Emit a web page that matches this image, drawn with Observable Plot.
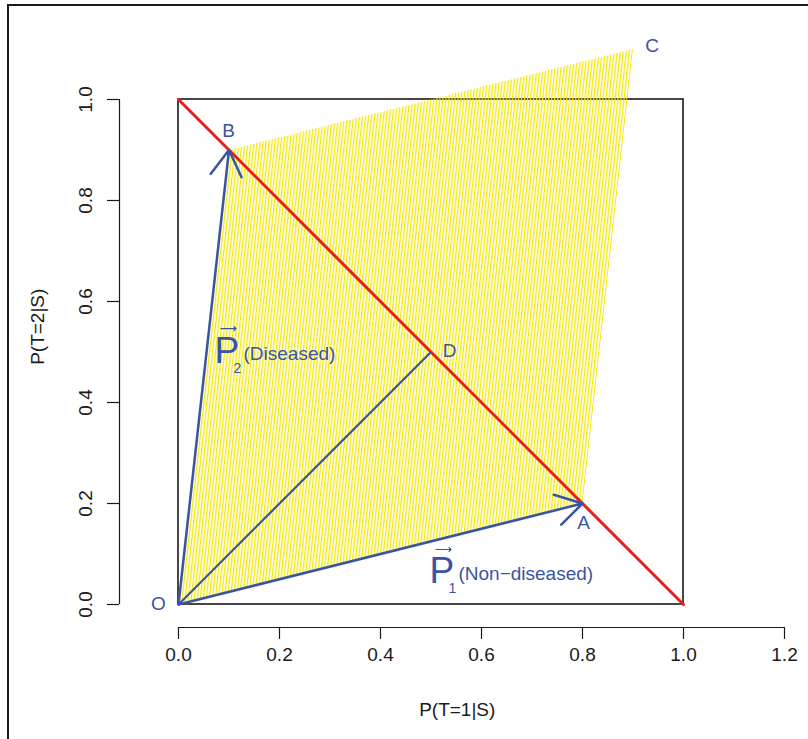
<!DOCTYPE html>
<html>
<head>
<meta charset="utf-8">
<script src="https://cdn.jsdelivr.net/npm/d3@7"></script>
<script src="https://cdn.jsdelivr.net/npm/@observablehq/plot@0.6"></script>
<style>
  html, body { margin: 0; padding: 0; background: #fff; }
  #wrap { position: relative; width: 808px; height: 739px; overflow: hidden; }
  #outer { position: absolute; left: 7px; top: 4px; width: 900px; height: 900px;
           border-left: 2px solid #1a1a1a; border-top: 2px solid #1a1a1a; pointer-events: none; }
</style>
</head>
<body>
<div id="wrap"><div id="outer"></div></div>
<script>
// ---- data ----
const xTicks = [0, 0.2, 0.4, 0.6, 0.8, 1.0, 1.2];
const yTicks = [0, 0.2, 0.4, 0.6, 0.8, 1.0];
const xTitle = "P(T=1|S)";
const yTitle = "P(T=2|S)";

// unit square box
const boxX = [0, 1];
const boxY = [0, 1];

// parallelogram O, A, C, B
const polyNames = ["O", "A", "C", "B", "O"];
const polyX = [0, 0.8, 0.9, 0.1, 0];
const polyY = [0, 0.2, 1.1, 0.9, 0];

// red diagonal x + y = 1
const diagX = [0, 1];
const diagY = [1, 0];

// vectors from O
const vecNames = ["A", "B"];
const vecX = [0.8, 0.1];
const vecY = [0.2, 0.9];

// O -> D segment
const midX = [0.5];
const midY = [0.5];

// point labels
const ptLabels = ["O", "A", "B", "C", "D"];
const ptLabelX = [-0.040, 0.802, 0.099, 0.938, 0.537];
const ptLabelY = [0.002, 0.162, 0.937, 1.107, 0.503];

// vector labels: P with subscript and description
const vLabelSub = ["1", "2"];
const vLabelDesc = ["(Non\u2212diseased)", "(Diseased)"];
const vLabelX = [0.497, 0.0713];
const vLabelY = [0.0416, 0.479];

// ---- build ----
const blue = "#3a54a4";
const red = "#e61e1e";
const ink = "#1a1a1a";
const fmt = d3.format(".1f");

const box = [{x1: boxX[0], x2: boxX[1], y1: boxY[0], y2: boxY[1]}];
const poly = polyX.map((x, i) => ({name: polyNames[i], x, y: polyY[i]}));
const diag = diagX.map((x, i) => ({x, y: diagY[i]}));
const vecs = vecX.map((x, i) => ({name: vecNames[i], x, y: vecY[i]}));
const mids = midX.map((x, i) => ({x, y: midY[i]}));
const pts = ptLabels.map((t, i) => ({t, x: ptLabelX[i], y: ptLabelY[i]}));
const vl = vLabelSub.map((s, i) => ({s, d: vLabelDesc[i], x: vLabelX[i], y: vLabelY[i]}));

const font = "'Liberation Sans', Arial, Helvetica, sans-serif";

const plot = Plot.plot({
  width: 808,
  height: 739,
  marginLeft: 178,
  marginRight: 24,
  marginTop: 99,
  marginBottom: 135,
  x: {domain: [0, 1.2], axis: null},
  y: {domain: [0, 1], axis: null},
  style: {fontFamily: font, background: "transparent", overflow: "visible"},
  marks: [
    // box
    Plot.rect(box, {x1: "x1", x2: "x2", y1: "y1", y2: "y2", fill: "none", stroke: ink, strokeWidth: 1.6}),
    // hatched parallelogram
    Plot.line(poly, {x: "x", y: "y", fill: "url(#hatch)", stroke: "none"}),
    // red diagonal
    Plot.line(diag, {x: "x", y: "y", stroke: red, strokeWidth: 3}),
    // O -> D
    Plot.link(mids, {x1: 0, y1: 0, x2: "x", y2: "y", stroke: blue, strokeWidth: 2.2}),
    // vectors
    Plot.arrow(vecs, {x1: 0, y1: 0, x2: "x", y2: "y", stroke: blue, strokeWidth: 2.5, headLength: 18, headAngle: 62}),
    // axes
    Plot.ruleY([0], {x1: xTicks[0], x2: xTicks[xTicks.length - 1], dy: 23, stroke: ink, strokeWidth: 1.2}),
    Plot.axisX({ticks: xTicks, tickSize: 12, dy: 23, tickPadding: 8, tickFormat: fmt, fontSize: 19, label: null, color: ink, strokeWidth: 1.2}),
    Plot.ruleX([0], {y1: yTicks[0], y2: yTicks[yTicks.length - 1], dx: -59, stroke: ink, strokeWidth: 1.2}),
    Plot.axisY({ticks: yTicks, tickSize: 12, dx: -59, tickFormat: () => "", label: null, color: ink, strokeWidth: 1.2}),
    Plot.text(yTicks, {x: 0, y: d => d, text: d => fmt(d), rotate: -90, dx: -93, textAnchor: "middle", lineAnchor: "middle", fontSize: 19, fill: ink}),
    Plot.text([xTitle], {x: 0.552, y: 0, dy: 105, text: d => d, fontSize: 19, fill: ink, lineAnchor: "middle"}),
    Plot.text([yTitle], {x: 0, y: 0.55, dx: -141, text: d => d, rotate: -90, fontSize: 19, fill: ink, lineAnchor: "middle"}),
    // point labels
    Plot.text(pts, {x: "x", y: "y", text: "t", fontSize: 19, fill: blue, lineAnchor: "middle"}),
    // vector labels
    Plot.text(vl, {x: "x", y: "y", text: () => "P", fontSize: 37, fill: blue, textAnchor: "start", lineAnchor: "bottom"}),
    Plot.text(vl, {x: "x", y: "y", text: "s", fontSize: 14, fill: blue, textAnchor: "start", lineAnchor: "bottom", dx: 19, dy: 10}),
    Plot.text(vl, {x: "x", y: "y", text: "d", fontSize: 19, fill: blue, textAnchor: "start", lineAnchor: "bottom", dx: 29, dy: -3}),
    Plot.vector(vl, {x: "x", y: "y", length: 15, rotate: 90, anchor: "middle", r: 2.2, stroke: blue, strokeWidth: 1.2, dx: 14, dy: -34})
  ]
});

const defs = d3.select(plot).insert("defs", ":first-child");
const pat = defs.append("pattern")
  .attr("id", "hatch")
  .attr("patternUnits", "userSpaceOnUse")
  .attr("width", 3)
  .attr("height", 40)
  .attr("patternTransform", "rotate(6.34)");
pat.append("rect").attr("x", 0).attr("y", 0).attr("width", 1.3).attr("height", 40).attr("fill", "#f5e800");

plot.style.position = "absolute";
plot.style.left = "0px";
plot.style.top = "0px";
document.getElementById("wrap").insertBefore(plot, document.getElementById("outer"));
</script>
</body>
</html>
